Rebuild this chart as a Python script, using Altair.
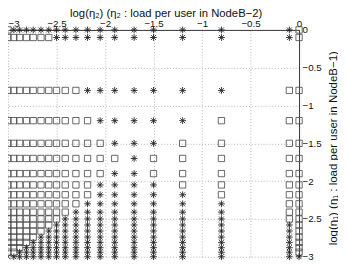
import altair as alt
import pandas as pd

# grid of log-load values (same set used for both NodeBs)
GRID = [-3, -2.94, -2.88, -2.81, -2.74, -2.66, -2.58, -2.5, -2.41, -2.3,
        -2.18, -2.05, -1.9, -1.7, -1.5, -1.2, -0.8, -0.1, 0]

# rows listed from top (log eta1 = 0) to bottom (log eta1 = -3)
ETA1_ROWS = GRID[::-1]
# S = square, A = asterisk, X = cross ; one character per GRID column
ROWS = [
    "S" + "A" * 17 + "S",
    "S" * 7 + "A" * 11 + "S",
    "S" * 10 + "A" * 7 + "S" * 2,
    "S" * 11 + "A" * 5 + "S" * 3,
    "S" * 12 + "A" * 3 + "S" * 4,
    "S" * 13 + "A" * 1 + "S" * 5,
    "S" * 12 + "A" * 2 + "S" * 5,
    "S" * 11 + "A" * 4 + "S" * 4,
    "S" * 11 + "A" * 5 + "S" * 3,
    "S" * 10 + "A" * 7 + "S" * 2,
    "S" * 9 + "A" * 8 + "S" * 2,
    "S" * 8 + "A" * 9 + "S" * 2,
    "S" * 7 + "A" * 11 + "S",
    "S" * 6 + "A" * 12 + "S",
    "S" * 5 + "A" * 13 + "S",
    "S" * 4 + "A" * 14 + "S",
    "S" * 3 + "A" * 15 + "S",
    "S" * 2 + "A" * 16 + "S",
    "X" + "A" * 18,
]

XTICKS = [-3, -2.5, -2, -1.5, -1, -0.5, 0]
YTICKS = [0, -0.5, -1, -1.5, -2, -2.5, -3]

records = []
for yv, row in zip(ETA1_ROWS, ROWS):
    for xv, k in zip(GRID, row):
        records.append({"x": xv, "y": yv, "kind": k})
df = pd.DataFrame(records)

FONT = "Liberation Sans"
STAR = "M-1,0H1M0,-1V1M-0.72,-0.72L0.72,0.72M-0.72,0.72L0.72,-0.72"
CROSS = "M-1,-1L1,1M-1,1L1,-1"

x_enc = alt.X(
    "x:Q",
    scale=alt.Scale(domain=[-3, 0], nice=False, zero=False),
    axis=alt.Axis(
        orient="top", values=XTICKS, format="~g", ticks=False,
        grid=True, gridDash=[1, 2], gridColor="#b5b5b5",
        domainColor="#333333", labelFont=FONT, labelFontSize=10,
        labelColor="#111111", labelPadding=2, labelFlush=False,
        labelAlign=alt.ExprRef(expr="datum.value == -3 ? 'left' : 'center'"),
        title="log(η₂)  (η₂ : load per user in NodeB−2)",
        titleFont=FONT, titleFontSize=11.6, titleFontWeight="normal",
        titleColor="#111111", titleX=162, titleY=-14,
        titleAlign="center", titleBaseline="alphabetic",
    ),
)
y_enc = alt.Y(
    "y:Q",
    scale=alt.Scale(domain=[-3, 0], nice=False, zero=False),
    axis=alt.Axis(
        orient="right", values=YTICKS, format="~g", ticks=False,
        grid=True, gridDash=[1, 2], gridColor="#b5b5b5",
        domainColor="#333333", labelFont=FONT, labelFontSize=10,
        labelColor="#111111", labelPadding=3, labelFlush=False,
        title="log(η₁)  (η₁ : load per user in NodeB−1)",
        titleFont=FONT, titleFontSize=11.8, titleFontWeight="normal",
        titleColor="#111111", titleAngle=270, titleX=34, titleY=121,
        titleAlign="center", titleBaseline="middle",
    ),
)

base = alt.Chart(df).encode(x=x_enc, y=y_enc)

squares = base.transform_filter(alt.datum.kind == "S").mark_point(
    shape="square", size=42, filled=False, stroke="#4a4a4a", strokeWidth=0.85, opacity=1
)
stars = base.transform_filter(alt.datum.kind == "A").mark_point(
    shape=STAR, size=48, filled=False, stroke="#222222", strokeWidth=0.9, opacity=1
)
crosses = base.transform_filter(alt.datum.kind == "X").mark_point(
    shape=CROSS, size=30, filled=False, stroke="#222222", strokeWidth=0.9, opacity=1
)

chart = (
    alt.layer(squares, stars, crosses)
    .properties(
        width=299, height=233,
        autosize=alt.AutoSizeParams(type="none"),
        padding={"left": 0, "top": 19, "right": 40, "bottom": 7},
        background="white",
    )
    .configure_view(strokeWidth=0)
)

chart.save("out.html", embed_options={"renderer": "svg", "actions": False})
